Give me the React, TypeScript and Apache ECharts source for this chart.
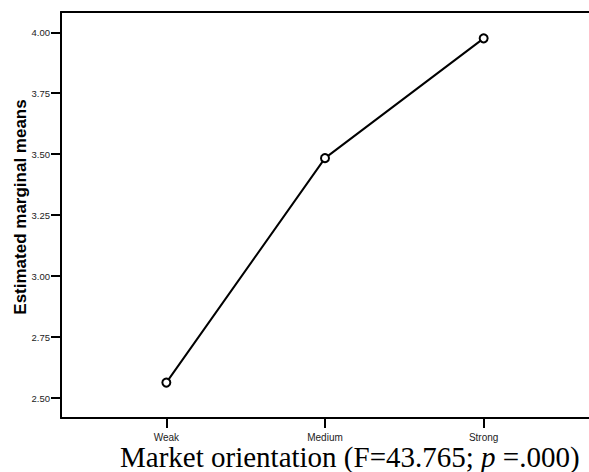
import React, { useEffect, useRef } from "react";
import * as echarts from "echarts";

const categories = ["Weak", "Medium", "Strong"];
const means = [2.564, 3.484, 3.975];
const yTicks = [2.5, 2.75, 3.0, 3.25, 3.5, 3.75, 4.0];
const yTitle = "Estimated marginal means";
const xTitleA = "Market orientation (F=43.765; ";
const xTitleP = "p";
const xTitleB = " =.000)";

export default function App() {
  const ref = useRef<HTMLDivElement>(null);
  useEffect(() => {
    if (!ref.current) return;
    const chart = echarts.init(ref.current, null, { renderer: "svg" });
    const positions = categories.map((_, i) => i + 1);
    const xMin = 0.336;
    const xMax = 3.664;
    chart.setOption({
      animation: false,
      backgroundColor: "#ffffff",
      grid: {
        left: 61,
        top: 12,
        right: -2,
        bottom: 54,
        show: false,
      },
      xAxis: [
        {
          type: "value",
          min: xMin,
          max: xMax,
          splitLine: { show: false },
          axisLine: { show: true, lineStyle: { color: "#000", width: 2 } },
          axisTick: {
            show: true,
            customValues: positions,
            length: 10,
            lineStyle: { color: "#000", width: 2 },
          },
          axisLabel: {
            customValues: positions,
            formatter: (v: number) => categories[Math.round(v) - 1] ?? "",
            margin: 14,
            fontFamily: "Liberation Sans, Arial",
            fontSize: 10,
            color: "#222",
          },
        },
        {
          type: "value",
          position: "top",
          min: xMin,
          max: xMax,
          splitLine: { show: false },
          axisLine: { show: true, lineStyle: { color: "#000", width: 2 } },
          axisTick: { show: false },
          axisLabel: { show: false },
        },
      ],
      yAxis: {
        type: "value",
        min: 2.419,
        max: 4.083,
        splitLine: { show: false },
        axisLine: { show: true, lineStyle: { color: "#000", width: 2 } },
        axisTick: {
          show: true,
          customValues: yTicks,
          length: 10,
          lineStyle: { color: "#000", width: 2 },
        },
        axisLabel: {
          customValues: yTicks,
          formatter: (v: number) => v.toFixed(2),
          margin: 11,
          fontFamily: "Liberation Sans, Arial",
          fontSize: 9.5,
          color: "#222",
        },
      },
      series: [
        {
          type: "line",
          data: means.map((m, i) => [positions[i], m]),
          symbol: "emptyCircle",
          symbolSize: 8,
          lineStyle: { color: "#000", width: 2 },
          itemStyle: { color: "#000", borderColor: "#000", borderWidth: 2 },
        },
      ],
      graphic: [
        {
          type: "text",
          x: 20,
          y: 207,
          rotation: Math.PI / 2,
          style: {
            text: yTitle,
            fontFamily: "Liberation Sans, Arial",
            fontWeight: "bold",
            fontSize: 17,
            fill: "#000",
            align: "center",
            verticalAlign: "middle",
          },
        },
        {
          type: "text",
          x: 120,
          y: 457,
          style: {
            text: `{a|${xTitleA}}{i|${xTitleP}}{a|${xTitleB}}`,
            align: "left",
            verticalAlign: "middle",
            backgroundColor: "#fff",
            rich: {
              a: {
                fontFamily: "Liberation Serif, Times New Roman",
                fontSize: 29,
                fill: "#000",
              },
              i: {
                fontFamily: "Liberation Serif, Times New Roman",
                fontSize: 29,
                fontStyle: "italic",
                fill: "#000",
              },
            },
          },
        },
      ],
    });
    return () => chart.dispose();
  }, []);
  return (
    <div
      ref={ref}
      style={{ position: "fixed", left: 0, top: 0, width: 589, height: 472 }}
    />
  );
}
